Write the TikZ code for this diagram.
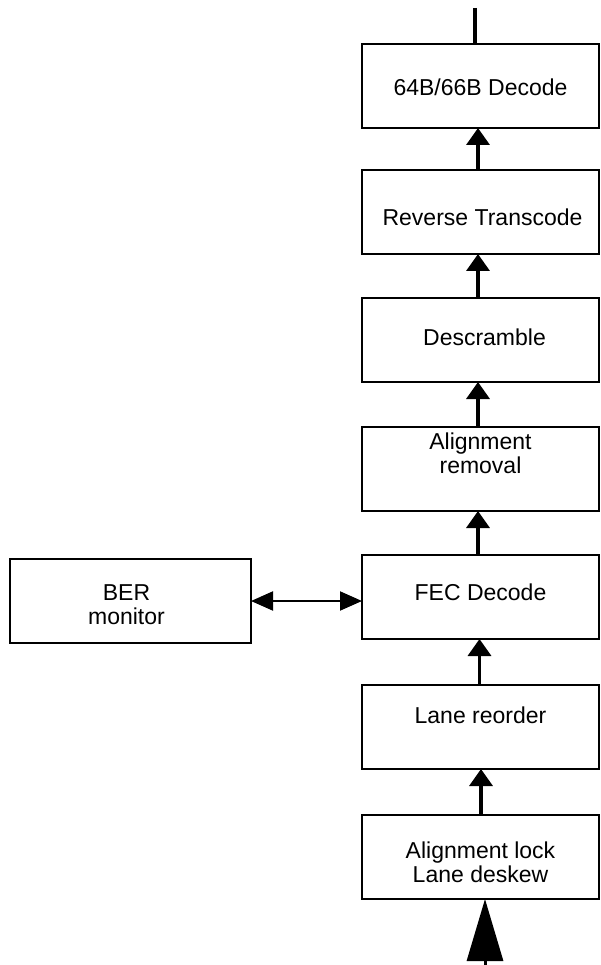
\documentclass[tikz,border=0pt]{standalone}
\usepackage{fontspec}
\setmainfont{Liberation Sans}
\usetikzlibrary{arrows.meta,positioning}
\tikzset{
  blockbox/.style={rectangle,draw=black,line width=2pt,inner sep=0pt,outer sep=0pt,
                   minimum width=237pt,minimum height=84pt},
  lbl/.style={align=center,inner sep=0pt,font=\fontsize{23}{24}\selectfont},
  uparr/.style={-{Triangle[width=23pt,length=17pt]},line width=3.5pt},
  bigarr/.style={-{Triangle[width=36pt,length=62pt]},line width=3pt},
  duparr/.style={{Triangle[width=19pt,length=22pt]}-{Triangle[width=19pt,length=22pt]},line width=2pt}
}
\begin{document}
\begin{tikzpicture}[x=1pt,y=1pt]
  \useasboundingbox (0,0) rectangle (600,-965);

  % receive chain, bottom of the stack is the input side
  \node[blockbox] (dec) at (480.5,-86) {};
  \node[blockbox,below=42pt of dec] (rtc) {};
  \node[blockbox,below=44pt of rtc] (dsc) {};
  \node[blockbox,below=45pt of dsc] (rem) {};
  \node[blockbox,below=44pt of rem] (fec) {};
  \node[blockbox,below=46pt of fec] (reo) {};
  \node[blockbox,below=46pt of reo] (lock) {};
  \node[blockbox,minimum width=241pt] (ber) at (130.5,-601) {};

  \node[lbl] at ([yshift=-1pt]dec) {64B/66B Decode};
  \node[lbl] at ([xshift=2pt,yshift=-5pt]rtc) {Reverse Transcode};
  \node[lbl] at ([xshift=4pt,yshift=3pt]dsc) {Descramble};
  \node[lbl] at ([yshift=16pt]rem) {Alignment\\removal};
  \node[lbl] at ([yshift=5pt]fec) {FEC Decode};
  \node[lbl] at ([yshift=12pt]reo) {Lane reorder};
  \node[lbl] at ([yshift=-5pt]lock) {Alignment lock\\Lane deskew};
  \node[lbl] at ([xshift=-4pt,yshift=-4pt]ber) {BER\\monitor};

  % data path
  \coordinate (out) at (475,-8);
  \coordinate (in) at (485,-972);
  \draw[line width=4pt] (out) -- (out |- dec.north);
  \draw[uparr] ([xshift=-2.5pt]rtc.north) -- ([xshift=-2.5pt]dec.south);
  \draw[uparr] ([xshift=-2.5pt]dsc.north) -- ([xshift=-2.5pt]rtc.south);
  \draw[uparr] ([xshift=-2.5pt]rem.north) -- ([xshift=-2.5pt]dsc.south);
  \draw[uparr] ([xshift=-2.5pt]fec.north) -- ([xshift=-2.5pt]rem.south);
  \draw[uparr] ([xshift=-1pt]reo.north) -- ([xshift=-1pt]fec.south);
  \draw[uparr] ([xshift=0.5pt]lock.north) -- ([xshift=0.5pt]reo.south);
  \draw[bigarr] (in) -- (in |- lock.south);

  \draw[duparr] (ber.east) -- (ber.east -| fec.west);
\end{tikzpicture}
\end{document}
